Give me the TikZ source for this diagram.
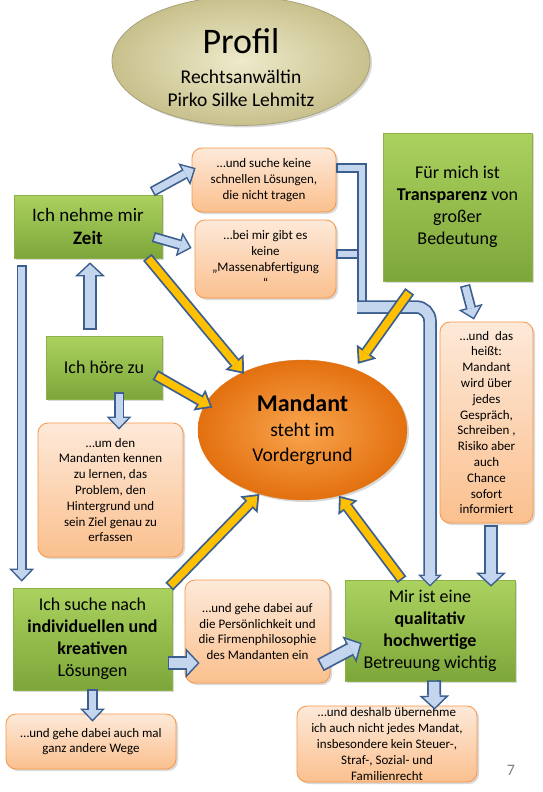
\documentclass[tikz,border=0pt]{standalone}
\usepackage{fontspec}
\setmainfont{Carlito}
\usetikzlibrary{positioning}
\usetikzlibrary{shapes.geometric}
\usetikzlibrary{arrows.meta}
\usetikzlibrary{shadows}
\definecolor{gruenoben}{HTML}{ABD25F}
\definecolor{gruenunten}{HTML}{7DA63A}
\definecolor{gruenrand}{HTML}{8DB04A}
\definecolor{orangeoben}{HTML}{FDE9D9}
\definecolor{orangeunten}{HTML}{FBC08E}
\definecolor{orangerand}{HTML}{F79646}
\definecolor{pfeilblau}{HTML}{C3D6EE}
\definecolor{pfeilrand}{HTML}{3C5F8F}
\definecolor{pfeilgelb}{HTML}{FFC000}
\definecolor{mandinnen}{HTML}{F9A54E}
\definecolor{mandaussen}{HTML}{E3700F}
\definecolor{mandrand}{HTML}{E0781E}
\definecolor{profinnen}{HTML}{EEEACB}
\definecolor{profaussen}{HTML}{C8C08C}
\definecolor{profrand}{HTML}{A8A27A}
\tikzset{schatten/.style = {drop shadow={shadow xshift=2pt, shadow yshift=-2pt, opacity=0.3}}}
\tikzset{gruen/.style = {rectangle, top color=gruenoben, bottom color=gruenunten, draw=gruenrand, line width=0.6pt, align=center, inner sep=2pt, font=\fontsize{18}{22}\selectfont, schatten}}
\tikzset{hinweis/.style = {rectangle, rounded corners=10pt, top color=orangeoben, bottom color=orangeunten, draw=orangerand, line width=0.8pt, align=center, inner sep=2pt, font=\fontsize{13}{15.8}\selectfont, schatten}}
\tikzset{barrow/.style = {draw=pfeilblau, line width=7pt, shorten <=1.6pt, shorten >=2.2pt, -{Triangle[length=9.3pt, width=18pt, line width=0pt]},
    preaction={draw=pfeilrand, line width=10.4pt, shorten <=0pt, shorten >=0pt, -{Triangle[length=13pt, width=25pt, line width=0pt]}}}}
\tikzset{bwide/.style = {draw=pfeilblau, line width=10.5pt, shorten <=1.6pt, shorten >=2.1pt, -{Triangle[length=10.4pt, width=22pt, line width=0pt]},
    preaction={draw=pfeilrand, line width=14pt, shorten <=0pt, shorten >=0pt, -{Triangle[length=14pt, width=30pt, line width=0pt]}}}}
\tikzset{bline/.style = {draw=pfeilblau, line width=6.5pt, shorten <=1.6pt, preaction={draw=pfeilrand, line width=10pt, shorten <=0pt}}}
\tikzset{bpipe/.style = {draw=pfeilblau, line width=10pt, shorten >=2.1pt, -{Triangle[length=8.4pt, width=17pt, line width=0pt]},
    preaction={draw=pfeilrand, line width=13.5pt, shorten >=0pt, -{Triangle[length=12pt, width=24pt, line width=0pt]}}}}
\tikzset{yarrow/.style = {draw=pfeilgelb, line width=7.4pt, shorten <=1.8pt, shorten >=2.9pt, -{Triangle[length=10.3pt, width=16.5pt, line width=0pt]},
    preaction={draw=pfeilrand, line width=11pt, shorten <=0pt, shorten >=0pt, -{Triangle[length=15pt, width=24pt, line width=0pt]}}}}

\begin{document}
\begin{tikzpicture}[x=1pt, y=-1pt]
    \useasboundingbox (0,0) rectangle (543,792);
    % oben: Titel
    \node[ellipse, minimum width=258pt, minimum height=114pt, inner sep=0pt, inner color=profinnen, outer color=profaussen,
          draw=profrand, line width=0.8pt, align=center, font=\fontsize{19.5}{23}\selectfont, schatten] (profil) at (241,61)
          {{\fontsize{36}{38}\selectfont\rule{0pt}{38pt}Profil}\\[7pt]Rechtsanwältin\\Pirko Silke Lehmitz};

    \node[gruen, minimum width=148pt, minimum height=63pt, font=\fontsize{19}{23.5}\selectfont] (zeit) at (88,226.5) {Ich nehme mir\\\textbf{Zeit}};
    \node[hinweis, minimum width=144pt, minimum height=64pt] (schnell) at (264,180) {…und suche keine\\schnellen Lösungen,\\die nicht tragen};
    \node[hinweis, minimum width=141pt, minimum height=78pt] (masse) at (265.5,259) {…bei mir gibt es\\keine\\„Massenabfertigung\\“};
    \node[gruen, minimum width=149pt, minimum height=148pt] (transp) at (457.5,207) {Für mich ist\\\textbf{Transparenz} von\\großer\\Bedeutung};
    \node[gruen, minimum width=116pt, minimum height=63pt] (hoere) at (104,367.5) {Ich höre zu};
    \node[hinweis, minimum width=145pt, minimum height=134pt] (kennen) at (110.5,490) {…um den\\Mandanten kennen\\zu lernen, das\\Problem, den\\Hintergrund und\\sein Ziel genau zu\\erfassen};
    \node[ellipse, minimum width=209pt, minimum height=140pt, inner sep=0pt, inner color=mandinnen, outer color=mandaussen,
          draw=mandrand, align=center, font=\fontsize{19.5}{25}\selectfont, schatten] (mandant) at (302.5,430)
          {{\fontsize{24}{25}\selectfont\textbf{Mandant}}\\steht im\\Vordergrund};
    \node[hinweis, minimum width=93pt, minimum height=201pt] (heisst) at (486.5,422.5) {…und\ \ das\\heißt:\\Mandant\\wird über\\jedes\\Gespräch,\\Schreiben ,\\Risiko aber\\auch\\Chance\\sofort\\informiert};
    \node[gruen, minimum width=159pt, minimum height=102pt] (loesung) at (92.5,639) {Ich suche nach\\\textbf{individuellen und}\\\textbf{kreativen}\\Lösungen};
    \node[hinweis, minimum width=145pt, minimum height=103pt] (persoen) at (257.5,631.5) {…und gehe dabei auf\\die Persönlichkeit und\\die Firmenphilosophie\\des Mandanten ein};
    \node[gruen, minimum width=170pt, minimum height=101pt] (betreu) at (430,630.5) {Mir ist eine\\\textbf{qualitativ}\\\textbf{hochwertige}\\Betreuung wichtig};
    \node[hinweis, minimum width=170pt, minimum height=55pt] (wege) at (91,741.5) {…und gehe dabei auch mal\\ganz andere Wege};
    \node[hinweis, minimum width=180pt, minimum height=76pt, inner ysep=0pt] (deshalb) at (387,744) {…und deshalb übernehme\\ich auch nicht jedes Mandat,\\insbesondere kein Steuer-,\\Straf-, Sozial- und\\Familienrecht};
    \node[text=gray, font=\fontsize{16}{18}\selectfont] (seite) at (511,770) {7};

    % blaue Pfeile
    \draw[barrow] ([xshift=-10pt,yshift=3pt]zeit.north east) -- ([xshift=4pt,yshift=12pt]schnell.west);
    \draw[barrow] ([xshift=-9pt,yshift=-10.5pt]zeit.east) -- ([xshift=-3pt,yshift=11pt]masse.west);
    \draw[bwide] ([xshift=-14pt,yshift=6pt]hoere.north) -- ([xshift=2pt,yshift=-4pt]zeit.south);
    \draw[barrow] ([xshift=8pt,yshift=-7pt]zeit.south west) -- ([xshift=9pt,yshift=6pt]loesung.north west);
    \draw[barrow] ([xshift=15pt,yshift=7pt]hoere.south) -- ([xshift=8.5pt,yshift=-7pt]kennen.north);
    \draw[barrow] ([xshift=7.5pt,yshift=-4pt]transp.south) -- ([xshift=-12.5pt,yshift=2pt]heisst.north);
    \draw[bwide] ([xshift=4.5pt,yshift=-2pt]heisst.south) -- ([xshift=61pt,yshift=-7pt]betreu.north);
    \draw[bwide] ([xshift=-4.5pt,yshift=-24pt]loesung.east) -- ([xshift=15pt,yshift=-31.5pt]persoen.west);
    \draw[bwide] ([xshift=-10pt,yshift=-33.5pt]persoen.east) -- ([xshift=17pt,yshift=-12.5pt]betreu.west);
    \draw[barrow] ([yshift=1pt]loesung.south) -- ([xshift=1.5pt,yshift=-8pt]wege.north);
    \draw[bwide] ([xshift=4pt,yshift=1pt]betreu.south) -- ([xshift=47.5pt,yshift=-4pt]deshalb.north);

    % Verbindung rechts
    \coordinate (knick) at (362,307);
    \draw[bline] ([yshift=5pt]masse.east) -- ([yshift=5pt]masse.east -| knick);
    \draw[bline] ([yshift=12pt]schnell.east) -| ([yshift=-4pt]knick);
    \draw[bpipe, rounded corners=14pt] ([xshift=-5pt]knick) -| ([yshift=-7pt]betreu.north);

    % gelbe Pfeile zum Mandanten
    \draw[yarrow] ([xshift=-15pt,yshift=1pt]zeit.south east) -- ([xshift=4pt]mandant.138);
    \draw[yarrow] ([xshift=-7pt,yshift=-7.5pt]hoere.east) -- ([xshift=8pt,yshift=-2pt]mandant.166);
    \draw[yarrow] ([xshift=27pt,yshift=-10pt]transp.south west) -- ([xshift=4pt,yshift=5pt]mandant.50);
    \draw[yarrow] ([xshift=-3pt,yshift=1pt]loesung.north east) -- (mandant.236);
    \draw[yarrow] ([xshift=-28pt]betreu.north) -- (mandant.-61);
\end{tikzpicture}
\end{document}
